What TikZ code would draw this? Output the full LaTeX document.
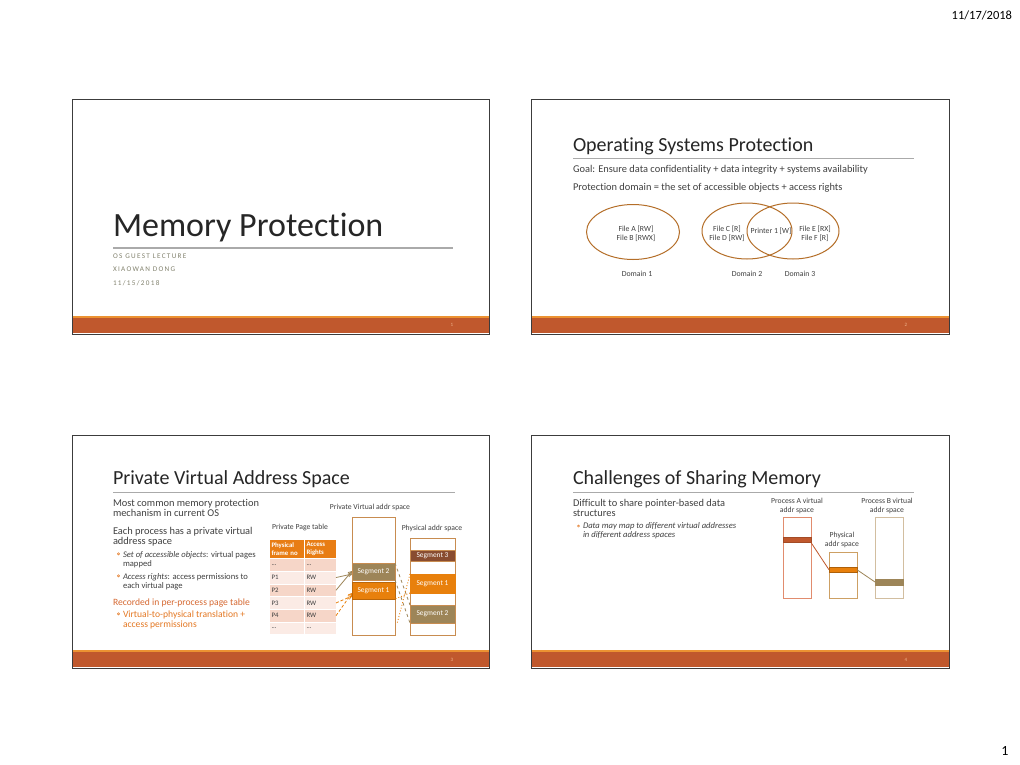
\documentclass[tikz,border=0pt]{standalone}
\usepackage{fontspec}
\setmainfont{Carlito}[Ligatures=NoCommon]
\usetikzlibrary{arrows.meta,shapes.geometric}
\definecolor{framegray}{RGB}{60,60,60}
\definecolor{rust}{RGB}{192,88,45}
\definecolor{barorange}{RGB}{236,146,50}
\definecolor{ochre}{RGB}{180,110,40}
\definecolor{bodygray}{RGB}{64,64,64}
\definecolor{titlegray}{RGB}{38,38,38}
\definecolor{subgray}{RGB}{130,130,110}
\definecolor{linegray}{RGB}{170,170,170}
\definecolor{accent}{RGB}{214,105,50}
\definecolor{accent2}{RGB}{228,120,35}
\definecolor{hdrorange}{RGB}{232,125,20}
\definecolor{rowdark}{RGB}{246,214,200}
\definecolor{rowlight}{RGB}{251,235,229}
\definecolor{olive}{RGB}{157,133,88}
\definecolor{segbrown}{RGB}{137,76,48}
\definecolor{segorange}{RGB}{232,128,12}
\definecolor{boxborder}{RGB}{200,140,80}
\definecolor{aborder}{RGB}{225,140,110}
\definecolor{pborder}{RGB}{205,160,100}
\definecolor{bborder}{RGB}{210,190,160}
\definecolor{pagenum}{RGB}{240,180,140}
\begin{document}
\begin{tikzpicture}[x=1pt,y=-1pt,
  every node/.style={inner sep=0pt,outer sep=0pt},
  slideframe/.style={draw=framegray,line width=1pt,anchor=north west},
  bigtitle/.style={anchor=base west,text=titlegray,font=\fontsize{34}{40}\selectfont},
  slidetitle/.style={anchor=base west,text=titlegray,font=\fontsize{20}{24}\selectfont},
  subt/.style={anchor=base west,text=subgray,font=\fontsize{7.2}{8}\selectfont\addfontfeature{LetterSpace=18}},
  bodytext/.style={anchor=base west,text=bodygray,font=\fontsize{10.4}{12}\selectfont},
  smallbody/.style={anchor=base west,text=bodygray,font=\fontsize{8.6}{10}\selectfont},
  pnum/.style={text=pagenum,font=\fontsize{5}{6}\selectfont},
  lbl/.style={text=bodygray,font=\fontsize{7.7}{9}\selectfont},
  domainell/.style={ellipse,draw=ochre,line width=1pt},
  dtext/.style={text=bodygray,font=\fontsize{7.8}{9}\selectfont,align=center},
  bulletmark/.style={circle,draw=accent2,line width=0.5pt,minimum size=2.2pt},
  tcell/.style={draw=white,line width=0.8pt,anchor=north west,minimum height=12.7pt,inner xsep=2.5pt,font=\fontsize{6.8}{7.5}\selectfont,text=bodygray,align=left},
  colA/.style={minimum width=35pt,text width=30pt},
  colB/.style={minimum width=32pt,text width=27pt},
  hcell/.style={tcell,fill=hdrorange,text=white,minimum height=19.5pt,font=\fontsize{6.8}{7.8}\selectfont\bfseries},
  membox/.style={draw=boxborder,line width=0.9pt,anchor=north west},
  seg/.style={draw=boxborder,line width=0.6pt,anchor=north west,text=white,font=\fontsize{7.4}{8.5}\selectfont},
  brownarr/.style={draw=olive,line width=0.8pt,-{Straight Barb[length=3pt,width=4pt]}},
  orangearr/.style={draw=segorange,line width=0.8pt,densely dashed,-{Straight Barb[length=3pt,width=4pt]}},
  browndash/.style={draw=olive,line width=0.8pt,dashed},
  orangedot/.style={draw=segorange,line width=0.9pt,dotted}
]
\useasboundingbox[fill=white] (0,0) rectangle (1020,765);

% header / footer
\node[anchor=base east,font=\fontsize{12.5}{14}\selectfont,text=black] (date) at (1012,20) {11/17/2018};
\node[anchor=base,font=\fontsize{14}{16}\selectfont,text=black] (pg) at (1005,755) {1};

% ---------------- Slide 1 ----------------
\fill[barorange] (72,316) rectangle (489,318);
\fill[rust] (72,318) rectangle (489,333);
\node[slideframe,minimum width=417pt,minimum height=234pt] (s1) at (72,100) {};
\node[pnum] (n1) at (452,325) {1};
\node[bigtitle] (t1) at (113,236) {Memory Protection};
\draw[linegray,line width=1.3pt] (113,248) -- (453,248);
\node[subt] (st1) at (113,258.5) {OS GUEST LECTURE};
\node[subt] (st2) at (113,271.5) {XIAOWAN DONG};
\node[subt] (st3) at (113,285.5) {11/15/2018};

% ---------------- Slide 2 ----------------
\fill[barorange] (531,316) rectangle (949,318);
\fill[rust] (531,318) rectangle (949,333);
\node[slideframe,minimum width=418pt,minimum height=234pt] (s2) at (531,100) {};
\node[pnum] (n2) at (906,325) {2};
\node[slidetitle] (t2) at (573,151.5) {Operating Systems Protection};
\draw[linegray,line width=0.8pt] (573,158) -- (914,158);
\node[bodytext] (g1) at (573,172.5) {Goal: Ensure data confidentiality + data integrity + systems availability};
\node[bodytext] (g2) at (573,190.5) {Protection domain = the set of accessible objects + access rights};
\node[domainell,minimum width=93pt,minimum height=55pt] (d1) at (633,232) {};
\node[domainell,minimum width=90pt,minimum height=56pt] (d2) at (747,231) {};
\node[domainell,minimum width=92pt,minimum height=56pt] (d3) at (793,231) {};
\node[dtext] (fa) at (636,233.5) {File A [RW]\\File B [RWX]};
\node[dtext] (fc) at (727,233.5) {File C [R]\\File D [RW]};
\node[dtext] (pr) at (771,231.5) {Printer 1 [W]};
\node[dtext] (fe) at (815,233.5) {File E [RX]\\File F [R]};
\node[dtext] (dl1) at (637,274) {Domain 1};
\node[dtext] (dl2) at (747,274) {Domain 2};
\node[dtext] (dl3) at (800,274) {Domain 3};

% ---------------- Slide 3 ----------------
\fill[barorange] (72,650) rectangle (489,652);
\fill[rust] (72,652) rectangle (489,667);
\node[slideframe,minimum width=417pt,minimum height=233pt] (s3) at (72,435) {};
\node[pnum] (n3) at (452,660) {3};
\node[slidetitle] (t3) at (113,484) {Private Virtual Address Space};
\draw[linegray,line width=0.8pt] (113,492) -- (455,492);
\node[bodytext] (a1) at (113,506.5) {Most common memory protection};
\node[bodytext] (a2) at (113,516.5) {mechanism in current OS};
\node[bodytext] (a3) at (113,534.5) {Each process has a private virtual};
\node[bodytext] (a4) at (113,544.5) {address space};
\node[bulletmark] (bm1) at (118.5,553.8) {};
\node[smallbody] (b1) at (123,557) {\textit{Set of accessible objects}: virtual pages};
\node[smallbody] (b2) at (123,566) {mapped};
\node[bulletmark] (bm2) at (118.5,575.8) {};
\node[smallbody] (b3) at (123,579) {\textit{Access rights}: access permissions to};
\node[smallbody] (b4) at (123,588) {each virtual page};
\node[bodytext,text=accent,font=\fontsize{9.6}{11}\selectfont] (a5) at (113,605.5) {Recorded in per-process page table};
\node[bulletmark] (bm3) at (118.5,613.8) {};
\node[smallbody,text=accent2,font=\fontsize{9.6}{11}\selectfont] (b5) at (123,617) {Virtual-to-physical translation +};
\node[smallbody,text=accent2,font=\fontsize{9.6}{11}\selectfont] (b6) at (123,627) {access permissions};

% page table
\node[lbl] (ptl) at (300,527) {Private Page table};
\node[hcell,colA] (h1) at (269,539) {Physical\\frame no};
\node[hcell,colB] (h2) at (304,539) {Access\\Rights};
\node[tcell,colA,fill=rowdark] (r0a) at (269,558.5) {...};
\node[tcell,colB,fill=rowdark] (r0b) at (304,558.5) {...};
\node[tcell,colA,fill=rowlight] (r1a) at (269,571.2) {P1};
\node[tcell,colB,fill=rowlight] (r1b) at (304,571.2) {RW};
\node[tcell,colA,fill=rowdark] (r2a) at (269,583.9) {P2};
\node[tcell,colB,fill=rowdark] (r2b) at (304,583.9) {RW};
\node[tcell,colA,fill=rowlight] (r3a) at (269,596.6) {P3};
\node[tcell,colB,fill=rowlight] (r3b) at (304,596.6) {RW};
\node[tcell,colA,fill=rowdark] (r4a) at (269,609.3) {P4};
\node[tcell,colB,fill=rowdark] (r4b) at (304,609.3) {RW};
\node[tcell,colA,fill=rowlight] (r5a) at (269,622) {...};
\node[tcell,colB,fill=rowlight] (r5b) at (304,622) {...};

% virtual address space
\node[lbl] (vl) at (370,507) {Private Virtual addr space};
\node[membox,minimum width=43pt,minimum height=118pt] (vbox) at (352,517) {};
\node[seg,fill=olive,minimum width=43pt,minimum height=17pt] (vs2) at (352,563) {Segment 2};
\node[seg,fill=segorange,draw=segorange!80!black,minimum width=43pt,minimum height=17pt] (vs1) at (352,582) {Segment 1};

% physical address space
\node[lbl] (pl) at (432,528) {Physical addr space};
\node[membox,minimum width=45pt,minimum height=97pt] (pbox) at (410,538) {};
\node[seg,fill=segbrown,minimum width=45pt,minimum height=11pt] (ps3) at (410,550) {Segment 3};
\node[seg,fill=segorange,draw=segorange,minimum width=45pt,minimum height=19pt] (ps1) at (410,574) {Segment 1};
\node[seg,fill=olive,minimum width=45pt,minimum height=18pt] (ps2) at (410,605) {Segment 2};

% connectors
\draw[brownarr] (r1b.east) -- ([yshift=-2.5pt]vs2.west);
\draw[brownarr] (r2b.east) -- ([yshift=0.5pt]vs2.west);
\draw[orangearr] (r3b.east) -- ([yshift=-5.5pt]vs1.west);
\draw[orangearr] (r4b.east) -- ([yshift=-2.5pt]vs1.west);
\draw[browndash] (vs2.north east) -- (ps2.north west);
\draw[browndash] (vs2.south east) -- (ps2.south west);
\coordinate (vlow) at (397,624);
\draw[orangedot] (ps1.north west) -- (vlow);
\draw[orangedot] (ps1.south west) -- (vs1.south east);

% ---------------- Slide 4 ----------------
\fill[barorange] (531,650) rectangle (949,652);
\fill[rust] (531,652) rectangle (949,667);
\node[slideframe,minimum width=418pt,minimum height=233pt] (s4) at (531,435) {};
\node[pnum] (n4) at (906,660) {4};
\node[slidetitle] (t4) at (573,484) {Challenges of Sharing Memory};
\draw[linegray,line width=0.8pt] (573,492) -- (914,492);
\node[bodytext] (c1) at (573,506.5) {Difficult to share pointer-based data};
\node[bodytext] (c2) at (573,516) {structures};
\node[bulletmark] (bm4) at (578.5,526) {};
\node[smallbody] (c3) at (583,528.5) {\textit{Data may map to different virtual addresses}};
\node[smallbody] (c4) at (583,537.5) {\textit{in different address spaces}};

\node[lbl,align=center] (al) at (797,506) {Process A virtual\\addr space};
\node[lbl,align=center] (bl) at (887,506) {Process B virtual\\addr space};
\node[lbl,align=center] (phl) at (842,540) {Physical\\addr space};
\node[draw=aborder,line width=1pt,anchor=north west,minimum width=28pt,minimum height=81pt] (abox) at (783,517) {};
\node[draw=pborder,line width=1pt,anchor=north west,minimum width=28pt,minimum height=46pt] (phbox) at (829,552) {};
\node[draw=bborder,line width=1pt,anchor=north west,minimum width=28pt,minimum height=81pt] (bbox) at (875,517) {};
\node[fill=rust,draw=rust!85!black,line width=0.6pt,anchor=north west,minimum width=28pt,minimum height=5.5pt] (aband) at (783,537) {};
\node[fill=segorange,draw=segorange!75!black,line width=0.6pt,anchor=north west,minimum width=28pt,minimum height=5.5pt] (pband) at (829,567) {};
\node[fill=olive,draw=olive,line width=0.6pt,anchor=north west,minimum width=28pt,minimum height=6pt] (bband) at (875,579) {};
\draw[rust,line width=0.8pt] (aband.south east) -- (pband.west);
\draw[olive,line width=0.8pt] (pband.east) -- (bband.west);
\end{tikzpicture}
\end{document}
